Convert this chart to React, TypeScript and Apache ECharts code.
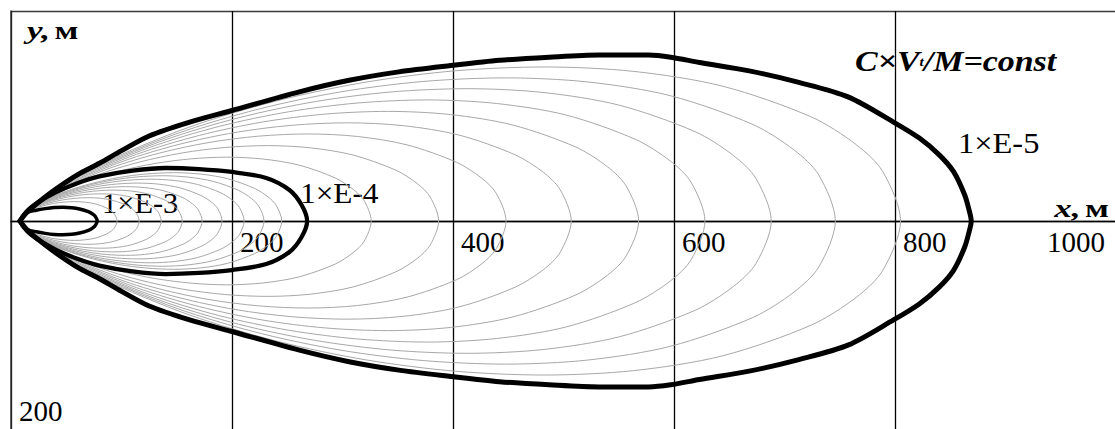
import React, { useEffect, useRef } from "react";
import * as echarts from "echarts";

// Axis ranges / ticks (metres)
const xRange = [0, 1000];
const yRange = [-200, 200];
const tickStep = 200;
const yShownLabel = -200;

// Upper halves of the isolines C·Vt/M = const, [x, y] in metres (mirrored below the axis)
const level1e3 = [[8, 0], [15, 8], [23, 10.3], [31, 11.8], [39, 12.8], [47, 13.1], [55, 12.7], [62, 11.5], [70, 8.9], [74, 6.5], [76.4, 4.2], [78, 0]];
const level1e4 = [[8, 0], [15, 10], [25, 18], [40, 27], [60, 36], [80, 42.5], [110, 48], [140, 50.5], [170, 49.5], [200, 46.7], [231, 41], [252, 29.5], [263, 15.2], [268, 0]];
const level1e5 = [[8, 0], [15, 9], [25, 18], [40, 30], [60, 44], [80, 55], [100, 67], [125, 81], [161, 94], [199, 105], [261, 123], [306, 134], [351, 142], [398, 148], [442, 153], [487, 156], [532, 158], [577, 158], [597, 156], [623, 151], [668, 143], [713, 132], [758, 118], [799, 94], [822, 79], [840, 63], [853, 47], [863, 25], [867, 10.5], [869, 0]];

// thin grey intermediate isolines between 1E-3 and 1E-4
const gray096 = [[8, 0], [9.6, 6.8], [19.2, 11.2], [28.8, 14.4], [38.4, 16.7], [48, 18], [57.6, 18.5], [67.2, 17.9], [76.8, 16.2], [86.4, 12.4], [91.2, 9.2], [94.1, 5.9], [96, 0]];
const gray116 = [[8, 0], [11.6, 8.2], [23.2, 13.5], [34.8, 17.3], [46.4, 20], [58, 21.6], [69.6, 22.2], [81.2, 21.6], [92.8, 19.4], [104.4, 15], [110.2, 11], [113.7, 7.1], [116, 0]];
const gray136 = [[8, 0], [13.6, 9.6], [27.2, 15.8], [40.8, 20.3], [54.4, 23.4], [68, 25.3], [81.6, 25.9], [95.2, 25.2], [108.8, 22.7], [122.4, 17.5], [129.2, 12.9], [133.3, 8.3], [136, 0]];
const gray155 = [[8, 0], [15.5, 10.9], [31, 17.9], [46.5, 23], [62, 26.5], [77.5, 28.7], [93, 29.4], [108.5, 28.6], [124, 25.7], [139.5, 19.8], [147.3, 14.6], [151.9, 9.4], [155, 0]];
const gray173 = [[8, 0], [17.3, 12.1], [34.6, 19.9], [51.9, 25.6], [69.2, 29.5], [86.5, 31.9], [103.8, 32.7], [121.1, 31.8], [138.4, 28.7], [155.7, 22.1], [164.4, 16.2], [169.5, 10.5], [173, 0]];
const gray191 = [[8, 0], [19.1, 13.4], [38.2, 22], [57.3, 28.2], [76.4, 32.6], [95.5, 35.2], [114.6, 36.1], [133.7, 35.1], [152.8, 31.6], [171.9, 24.3], [181.5, 17.9], [187.2, 11.6], [191, 0]];
const gray211 = [[8, 0], [21.1, 14.7], [42.2, 24.2], [63.3, 31.1], [84.4, 35.9], [105.5, 38.8], [126.6, 39.8], [147.7, 38.6], [168.8, 34.8], [189.9, 26.8], [200.5, 19.7], [206.8, 12.8], [211, 0]];
const gray229 = [[8, 0], [22.9, 15.9], [45.8, 26.2], [68.7, 33.7], [91.6, 38.9], [114.5, 42], [137.4, 43.1], [160.3, 41.8], [183.2, 37.7], [206.1, 29.1], [217.6, 21.4], [224.4, 13.8], [229, 0]];
const gray245 = [[8, 0], [24.5, 17], [49, 28], [73.5, 35.9], [98, 41.5], [122.5, 44.8], [147, 46], [171.5, 44.7], [196, 40.3], [220.5, 31], [232.8, 22.8], [240.1, 14.8], [245, 0]];

// thin grey intermediate isolines between 1E-4 and 1E-5
const gray326 = [[8, 0], [16.3, 13.1], [32.6, 22.5], [65.2, 37], [97.8, 47.5], [130.4, 54.8], [163, 59.2], [195.6, 60.8], [228.2, 59], [260.8, 53.2], [293.4, 41], [309.7, 30.1], [319.5, 19.5], [326, 0]];
const gray387 = [[8, 0], [19.4, 15.4], [38.7, 26.6], [77.4, 43.7], [116.1, 56.1], [154.8, 64.8], [193.5, 70], [232.2, 71.8], [270.9, 69.7], [309.6, 62.8], [348.3, 48.4], [367.7, 35.6], [379.3, 23], [387, 0]];
const gray448 = [[8, 0], [22.4, 17.8], [44.8, 30.7], [89.6, 50.4], [134.4, 64.7], [179.2, 74.8], [224, 80.8], [268.8, 82.9], [313.6, 80.5], [358.4, 72.5], [403.2, 55.9], [425.6, 41.1], [439, 26.6], [448, 0]];
const gray507 = [[8, 0], [25.4, 20.1], [50.7, 34.6], [101.4, 56.9], [152.1, 73], [202.8, 84.3], [253.5, 91.1], [304.2, 93.5], [354.9, 90.8], [405.6, 81.8], [456.3, 63], [481.7, 46.4], [496.9, 30], [507, 0]];
const gray568 = [[8, 0], [28.4, 22.4], [56.8, 38.6], [113.6, 63.5], [170.4, 81.5], [227.2, 94.2], [284, 101.8], [340.8, 104.4], [397.6, 101.4], [454.4, 91.3], [511.2, 70.4], [539.6, 51.8], [556.6, 33.5], [568, 0]];
const gray628 = [[8, 0], [31.4, 24.8], [62.8, 42.7], [125.6, 70.1], [188.4, 90.1], [251.2, 104], [314, 112.4], [376.8, 115.3], [439.6, 111.9], [502.4, 100.9], [565.2, 77.7], [596.6, 57.2], [615.4, 37], [628, 0]];
const gray688 = [[8, 0], [34.4, 27.1], [68.8, 46.6], [137.6, 76.6], [206.4, 98.4], [275.2, 113.7], [344, 122.9], [412.8, 126], [481.6, 122.4], [550.4, 110.3], [619.2, 85], [653.6, 62.5], [674.2, 40.4], [688, 0]];
const gray746 = [[8, 0], [37.3, 29.3], [74.6, 50.4], [149.2, 82.9], [223.8, 106.5], [298.4, 123], [373, 132.9], [447.6, 136.3], [522.2, 132.4], [596.8, 119.3], [671.4, 91.9], [708.7, 67.6], [731.1, 43.7], [746, 0]];
const gray805 = [[8, 0], [40.3, 31.5], [80.5, 54.3], [161, 89.3], [241.5, 114.7], [322, 132.4], [402.5, 143.1], [483, 146.7], [563.5, 142.5], [644, 128.4], [724.5, 99], [764.8, 72.8], [788.9, 47.1], [805, 0]];

const grayCurves = [gray096, gray116, gray136, gray155, gray173, gray191, gray211, gray229, gray245, gray326, gray387, gray448, gray507, gray568, gray628, gray688, gray746, gray805];

const FONT = '"Liberation Serif", "Times New Roman", serif';
const GRID_HEIGHT = 420;

const closeCurve = (upper: number[][]) => {
  const lower = upper.slice(0, -1).reverse().map(([x, y]) => [x, -y]);
  return [...upper, ...lower];
};

const curveSeries = (upper: number[][], color: string, width: number, z: number) => ({
  type: "line",
  data: closeCurve(upper),
  showSymbol: false,
  symbol: "none",
  smooth: 0.3,
  silent: true,
  z,
  lineStyle: { color, width, cap: "round", join: "round" },
});

const unitRich = (size: number) => ({
  i: { fontFamily: FONT, fontStyle: "italic", fontWeight: "bold", fontSize: size, fill: "#000" },
  b: { fontFamily: FONT, fontWeight: "bold", fontSize: size, fill: "#000" },
});

export default function App() {
  const ref = useRef<HTMLDivElement>(null);
  useEffect(() => {
    const chart = echarts.init(ref.current!, null, { renderer: "svg" });
    const series: any[] = [
      ...grayCurves.map((c) => curveSeries(c, "#a8a8a8", 1, 2)),
      curveSeries(level1e3, "#000", 3.5, 3),
      curveSeries(level1e4, "#000", 4.3, 3),
      curveSeries(level1e5, "#000", 5, 3),
    ];
    chart.setOption({
      animation: false,
      backgroundColor: "#fff",
      grid: { left: 11, top: 11, width: 1105, height: GRID_HEIGHT, outerBoundsMode: "none", containLabel: false },
      xAxis: {
        type: "value",
        min: xRange[0],
        max: xRange[1],
        interval: tickStep,
        position: "bottom",
        offset: -GRID_HEIGHT / 2,
        axisLine: { show: true, onZero: false, lineStyle: { color: "#000", width: 1.3 } },
        axisTick: { show: false },
        splitLine: { show: true, lineStyle: { color: "#000", width: 1.3 } },
        axisLabel: {
          showMinLabel: false,
          align: "left",
          alignMaxLabel: "right",
          verticalAlign: "top",
          margin: 6,
          padding: [0, 11, 0, 8],
          fontFamily: FONT,
          fontSize: 29,
          color: "#000",
          formatter: (v: number) => String(v),
        },
      },
      yAxis: {
        type: "value",
        min: yRange[0],
        max: yRange[1],
        interval: tickStep,
        axisLine: { show: true, onZero: false, lineStyle: { color: "#333", width: 1.5 } },
        axisTick: { show: false },
        splitLine: { show: true, lineStyle: { color: "#3a3a3a", width: 1.3 } },
        axisLabel: {
          inside: true,
          margin: 8,
          verticalAlign: "bottom",
          padding: [0, 0, 6, 0],
          fontFamily: FONT,
          fontSize: 29,
          color: "#000",
          formatter: (v: number) => (v === yShownLabel ? String(Math.abs(v)) : ""),
        },
      },
      graphic: [
        {
          type: "text",
          x: 27,
          y: 30,
          scaleX: 1.35,
          style: { text: "{i|y,} {b|м}", textVerticalAlign: "middle", rich: unitRich(26) },
        },
        {
          type: "text",
          x: 1109,
          y: 208,
          scaleX: 1.35,
          style: { text: "{i|x,} {b|м}", textAlign: "right", textVerticalAlign: "middle", rich: unitRich(26) },
        },
        {
          type: "text",
          x: 855,
          y: 61,
          scaleX: 1.17,
          style: {
            text: "{m|C×V}{s|t}{m|/M=const}",
            textVerticalAlign: "middle",
            rich: {
              m: { fontFamily: FONT, fontStyle: "italic", fontWeight: "bold", fontSize: 29, fill: "#000", height: 30 },
              s: { fontFamily: FONT, fontStyle: "italic", fontWeight: "bold", fontSize: 13, fill: "#000", verticalAlign: "bottom", height: 30 },
            },
          },
        },
        {
          type: "text",
          x: 958,
          y: 144,
          scaleX: 1.12,
          style: { text: "1×E-5", font: `29px ${FONT}`, fill: "#000", textVerticalAlign: "middle" },
        },
        {
          type: "text",
          x: 300,
          y: 193,
          scaleX: 1.08,
          style: { text: "1×E-4", font: `29px ${FONT}`, fill: "#000", textVerticalAlign: "middle" },
        },
        {
          type: "text",
          x: 102,
          y: 203,
          scaleX: 1.05,
          style: { text: "1×E-3", font: `29px ${FONT}`, fill: "#000", textVerticalAlign: "middle" },
        },
      ],
      series,
    });
    return () => chart.dispose();
  }, []);
  return (
    <div
      ref={ref}
      style={{ position: "fixed", left: 0, top: 0, width: 1115, height: 429, background: "#fff" }}
    />
  );
}
